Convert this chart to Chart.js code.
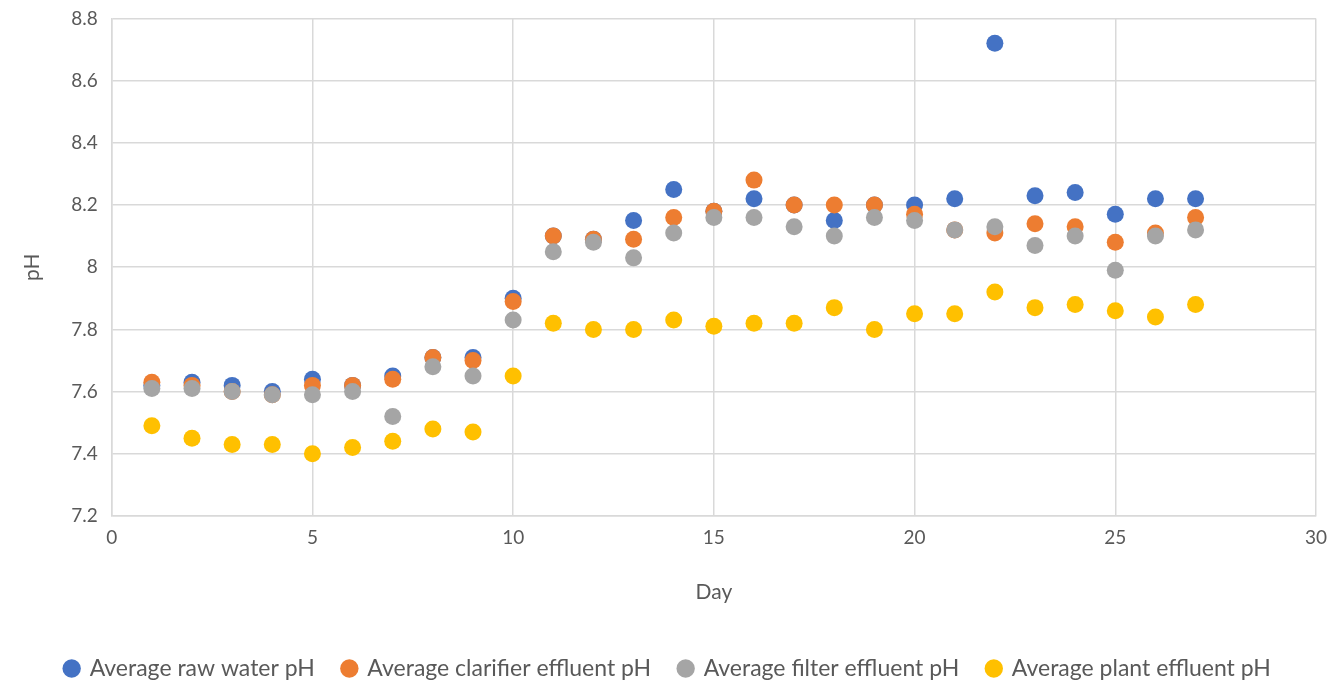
<!DOCTYPE html>
<html>
<head>
<meta charset="utf-8">
<script src="https://cdn.jsdelivr.net/npm/chart.js@4.4.0/dist/chart.umd.min.js"></script>
<style>
    html, body { margin: 0; padding: 0; background: #fff; overflow: hidden; }
    #grafico { position: relative; top: -7px; width: 1342px; height: 690px; }
</style>
</head>
<body>
<div id="grafico"><canvas id="myChart"></canvas></div>
<script>
// Datos
const dias = [1, 2, 3, 4, 5, 6, 7, 8, 9, 10, 11, 12, 13, 14, 15, 16, 17, 18, 19, 20, 21, 22, 23, 24, 25, 26, 27]
const ph_cruda = [7.62, 7.63, 7.62, 7.60, 7.64, 7.62, 7.65, 7.71, 7.71, 7.90, 8.10, 8.09, 8.15, 8.25, 8.18, 8.22, 8.20, 8.15, 8.20, 8.20, 8.22, 8.72, 8.23, 8.24, 8.17, 8.22, 8.22]
const ph_clarificador = [7.63, 7.62, 7.60, 7.59, 7.62, 7.62, 7.64, 7.71, 7.70, 7.89, 8.10, 8.09, 8.09, 8.16, 8.18, 8.28, 8.20, 8.20, 8.20, 8.17, 8.12, 8.11, 8.14, 8.13, 8.08, 8.11, 8.16]
const ph_filtro = [7.61, 7.61, 7.60, 7.59, 7.59, 7.60, 7.52, 7.68, 7.65, 7.83, 8.05, 8.08, 8.03, 8.11, 8.16, 8.16, 8.13, 8.10, 8.16, 8.15, 8.12, 8.13, 8.07, 8.10, 7.99, 8.10, 8.12]
const ph_planta = [7.49, 7.45, 7.43, 7.43, 7.40, 7.42, 7.44, 7.48, 7.47, 7.65, 7.82, 7.80, 7.80, 7.83, 7.81, 7.82, 7.82, 7.87, 7.80, 7.85, 7.85, 7.92, 7.87, 7.88, 7.86, 7.84, 7.88]

const nombres = ['Average raw water pH', 'Average clarifier effluent pH', 'Average filter effluent pH', 'Average plant effluent pH']
const colores = ['#4472C4', '#ED7D31', '#A5A5A5', '#FFC000']

function puntos(valores) {
    return valores.map((v, i) => ({ x: dias[i], y: v }))
}

function serie(i, valores) {
    return {
        label: nombres[i],
        data: puntos(valores),
        backgroundColor: colores[i],
        borderColor: colores[i],
        pointRadius: 8.5,
        pointHoverRadius: 8.5,
        borderWidth: 0,
        order: 4 - i   // las ultimas series quedan encima, como en el original
    }
}

const fuente = "Lato, 'Liberation Sans', sans-serif"
const gris_texto = '#595959'
const gris_linea = '#D9D9D9'

const data = {
    datasets: [
        serie(0, ph_cruda),
        serie(1, ph_clarificador),
        serie(2, ph_filtro),
        serie(3, ph_planta)
    ]
}

const config = {
    type: 'scatter',
    data: data,
    options: {
        responsive: true,
        maintainAspectRatio: false,
        animation: false,
        layout: { padding: { left: 20, right: 26, top: 0, bottom: -7 } },
        plugins: {
            tooltip: { enabled: false },
            legend: {
                position: 'bottom',
                labels: {
                    usePointStyle: true,
                    pointStyle: 'circle',
                    boxWidth: 13,
                    boxHeight: 13,
                    padding: 28,
                    color: gris_texto,
                    font: { family: fuente, size: 23 },
                    sort: (a, b) => a.datasetIndex - b.datasetIndex
                }
            }
        },
        scales: {
            x: {
                type: 'linear',
                min: 0,
                max: 30,
                ticks: {
                    stepSize: 5,
                    color: gris_texto,
                    padding: 10,
                    font: { family: fuente, size: 19 }
                },
                grid: { color: gris_linea, lineWidth: 1.5, drawTicks: false },
                border: { color: gris_linea, width: 1.5 },
                title: {
                    display: true,
                    text: 'Day',
                    color: gris_texto,
                    padding: { top: 21, bottom: 24 },
                    font: { family: fuente, size: 21 }
                }
            },
            y: {
                min: 7.2,
                max: 8.8,
                ticks: {
                    stepSize: 0.2,
                    color: gris_texto,
                    padding: 14,
                    font: { family: fuente, size: 19 },
                    callback: (valor) => String(Number(valor.toFixed(1)))
                },
                grid: { color: gris_linea, lineWidth: 1.5, drawTicks: false },
                border: { color: gris_linea, width: 1.5 },
                title: {
                    display: true,
                    text: 'pH',
                    color: gris_texto,
                    padding: { top: 0, bottom: 12 },
                    font: { family: fuente, size: 21 }
                }
            }
        }
    }
}

const myChart = new Chart(document.getElementById('myChart'), config)
</script>
</body>
</html>
